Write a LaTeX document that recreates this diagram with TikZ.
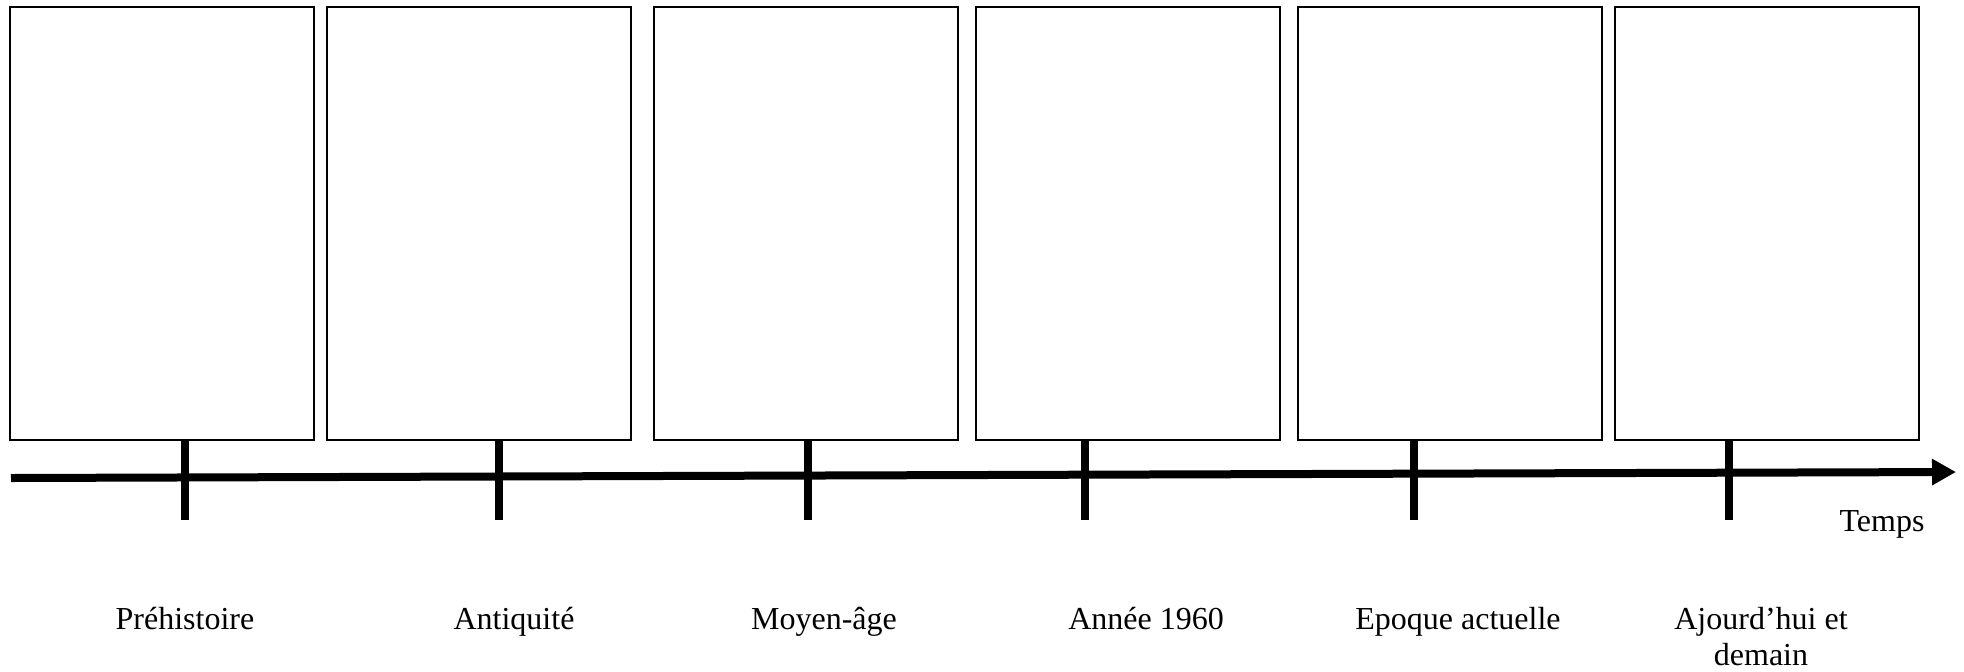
\documentclass[tikz,border=0pt]{standalone}
\usepackage{fontspec}
\setmainfont{Liberation Serif}
\usetikzlibrary{arrows.meta}

\begin{document}
\begin{tikzpicture}[x=0.5pt, y=-0.5pt,
    periode/.style={draw, line width=1pt, minimum width=152pt, minimum height=216.5pt, inner sep=0pt},
    axe/.style={line width=4pt, -{Triangle[length=12pt, width=12.5pt]}},
    graduation/.style={line width=4pt},
    etiquette/.style={anchor=base, align=center, font=\fontsize{16}{18}\selectfont}]
  \useasboundingbox (0,0) rectangle (1964,671);

  % cadres
  \foreach \cx [count=\i] in {162, 479, 805.5, 1128, 1450, 1767}
    \node[periode] (cadre\i) at (\cx,223.5) {};

  % axe du temps
  \coordinate (debut) at (11,478);
  \coordinate (fin) at (1956,472);
  \draw[axe] (debut) -- (fin);
  \foreach \tx in {185, 499, 808, 1085, 1414, 1729}
    \draw[graduation] (\tx,440) -- (\tx,520);

  \node[etiquette] (temps) at (1882,531) {Temps};

  % periodes (base = derniere ligne)
  \foreach \lx/\ly/\texte [count=\i] in {185/629/Préhistoire, 514/629/Antiquité, 824/629/Moyen-âge,
      1146/629/Année 1960, 1458/629/Epoque actuelle, 1761/665/{Ajourd’hui et\\demain}}
    \node[etiquette] (periode\i) at (\lx,\ly) {\texte};
\end{tikzpicture}
\end{document}
